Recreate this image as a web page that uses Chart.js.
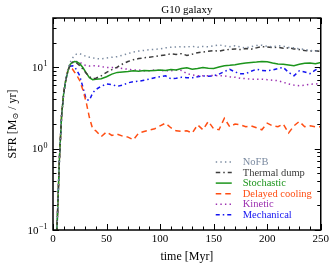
<!DOCTYPE html>
<html>
<head>
<meta charset="utf-8">
<script src="https://cdn.jsdelivr.net/npm/chart.js@4.4.0/dist/chart.umd.min.js"></script>
<style>
  html, body { margin: 0; padding: 0; background: #fff; }
  #wrap { width: 332px; height: 274px; }
</style>
</head>
<body>
<div id="wrap"><canvas id="sfrChart"></canvas></div>
<script>
// time in Myr (shared by all runs)
const times = [2, 4, 6, 8, 10, 12, 14, 16, 18, 20, 22, 25, 28, 31, 34, 37, 40,
  45, 50, 55, 60, 65, 70, 75, 80, 85, 90, 95, 100, 105, 110, 115, 120, 125, 130, 135, 140,
  145, 150, 155, 160, 165, 170, 175, 180, 185, 190, 195, 200, 205, 210, 215, 220, 225, 230,
  235, 240, 245, 250];

// SFR [Msun / yr]
const noFB = [0.03, 0.13, 0.75, 2.5, 4.8, 7.2, 9.6, 11.4, 12.8, 13.9, 14.4, 14.6, 14.0, 13.5, 13.2, 13.0, 12.7,
  12.6, 12.9, 13.2, 13.4, 14.0, 14.6, 15.3, 15.7, 16.0, 16.3, 16.5, 16.7, 17.2, 17.5, 17.6, 17.8, 17.6, 18.0, 17.5, 17.9,
  17.7, 18.2, 18.7, 18.2, 17.8, 18.3, 17.6, 17.2, 17.8, 18.4, 18.5, 18.0, 17.7, 18.3, 18.0, 17.4, 17.2, 16.7,
  16.5, 16.0, 15.7, 16.3];
const thermalDump = [0.03, 0.13, 0.75, 2.5, 4.8, 7.0, 9.0, 10.6, 11.3, 11.5, 11.2, 10.4, 9.4, 8.4, 7.6, 7.2, 7.3,
  7.8, 8.6, 9.3, 10.0, 10.9, 11.7, 12.3, 12.7, 13.0, 13.2, 13.5, 13.8, 14.1, 14.5, 14.3, 14.6, 13.9, 14.4, 15.0, 15.3,
  15.6, 15.9, 15.7, 16.2, 16.5, 16.7, 16.4, 16.9, 16.6, 17.2, 17.8, 17.6, 17.3, 17.5, 17.0, 17.2, 16.7, 16.4,
  16.0, 15.7, 15.9, 15.6];
const stochastic = [0.03, 0.13, 0.75, 2.5, 4.8, 7.0, 9.0, 10.8, 11.4, 11.7, 11.6, 11.0, 9.8, 8.5, 7.4, 7.0, 7.1,
  7.2, 7.6, 8.2, 8.6, 8.7, 8.8, 9.0, 8.9, 9.1, 9.0, 9.1, 9.2, 9.1, 9.3, 9.2, 9.6, 9.8, 9.4, 9.6, 9.9,
  9.7, 9.6, 10.0, 10.4, 10.5, 10.7, 11.0, 11.2, 11.4, 11.5, 11.7, 11.6, 11.2, 10.9, 10.8, 10.6, 10.4, 10.8,
  11.1, 11.2, 11.0, 11.4];
const delayedCooling = [0.03, 0.13, 0.75, 2.5, 4.8, 7.0, 9.3, 9.9, 9.5, 8.7, 8.0, 6.8, 5.2, 3.7, 2.4, 1.75, 1.65,
  1.4, 1.6, 1.45, 1.5, 1.42, 1.38, 1.28, 1.55, 1.62, 1.68, 1.75, 1.9, 2.05, 1.8, 1.65, 1.62, 1.65, 1.55, 1.95, 1.7,
  2.15, 1.75, 1.7, 2.35, 1.85, 2.0, 1.95, 1.85, 1.9, 1.8, 1.7, 2.05, 1.9, 1.85, 2.0, 1.55, 1.9, 2.15,
  1.85, 1.9, 1.85, 1.85];
const kinetic = [0.03, 0.13, 0.75, 2.5, 4.8, 7.0, 9.0, 10.8, 11.4, 11.8, 11.7, 11.4, 10.8, 10.4, 10.3, 10.4, 10.4,
  10.1, 9.9, 9.9, 9.8, 9.6, 9.4, 9.2, 9.2, 9.0, 9.0, 9.2, 9.1, 9.0, 9.0, 9.2, 9.1, 8.3, 8.0, 7.8, 7.8,
  7.8, 7.9, 7.8, 7.8, 7.6, 7.5, 7.3, 7.2, 7.1, 7.1, 7.1, 7.0, 6.9, 6.8, 6.5, 6.2, 6.0, 5.9,
  6.0, 6.15, 6.2, 6.3];
const mechanical = [0.03, 0.13, 0.75, 2.5, 4.8, 7.0, 9.3, 10.2, 10.4, 10.2, 9.2, 7.8, 5.6, 4.0, 3.9, 4.8, 5.3,
  5.8, 6.2, 6.1, 5.8, 6.0, 6.4, 6.6, 6.7, 6.9, 7.1, 7.4, 7.6, 7.8, 7.2, 7.3, 7.5, 7.4, 7.4, 7.6, 7.8,
  7.7, 7.8, 8.2, 8.8, 9.4, 8.7, 8.3, 8.3, 8.9, 9.4, 9.1, 9.0, 9.2, 9.6, 9.9, 8.6, 7.8, 9.0,
  8.7, 8.3, 9.2, 9.9];

const xMajorTicks = [0, 50, 100, 150, 200, 250];
const yMajorTicks = [0.1, 1, 10];
const yTickExponents = ['\u22121', '0', '1'];

const SERIF = '"Liberation Serif", "DejaVu Serif", serif';

const runs = [
  { label: 'NoFB', data: noFB, color: '#7a8aa0', dash: [1.4, 3.2] },
  { label: 'Thermal dump', data: thermalDump, color: '#3c3c3c', dash: [4.5, 3, 1.5, 3] },
  { label: 'Stochastic', data: stochastic, color: '#1c951c', dash: [] },
  { label: 'Delayed cooling', data: delayedCooling, color: '#ff4d12', dash: [5.5, 4] },
  { label: 'Kinetic', data: kinetic, color: '#9b2fb0', dash: [1.4, 3.2] },
  { label: 'Mechanical', data: mechanical, color: '#1414f0', dash: [4, 3, 1.5, 3] }
];

function strokeLine(ctx, x1, y1, x2, y2) {
  ctx.beginPath();
  ctx.moveTo(x1, y1);
  ctx.lineTo(x2, y2);
  ctx.stroke();
}

// frame, inward ticks, y tick labels, y title, legend and title
const decorations = {
  id: 'decorations',
  afterDraw(chart) {
    const { ctx, chartArea: a, scales: { x, y } } = chart;
    ctx.save();
    ctx.strokeStyle = '#000';
    ctx.lineWidth = 1;

    for (let v = 0; v <= 250; v += 10) {
      const px = Math.round(x.getPixelForValue(v)) + 0.5;
      const len = xMajorTicks.includes(v) ? 6 : 3.5;
      strokeLine(ctx, px, a.bottom, px, a.bottom - len);
      strokeLine(ctx, px, a.top, px, a.top + len);
    }
    for (let d = -1; d <= 1; d++) {
      for (let k = 1; k <= 9; k++) {
        const v = k * Math.pow(10, d);
        if (v > y.max) continue;
        const py = Math.round(y.getPixelForValue(v)) + 0.5;
        const len = k === 1 ? 6 : 3.5;
        strokeLine(ctx, a.left, py, a.left + len, py);
        strokeLine(ctx, a.right, py, a.right - len, py);
      }
    }

    ctx.lineWidth = 1.5;
    ctx.strokeRect(a.left, a.top, a.right - a.left, a.bottom - a.top);

    // y tick labels as 10^n
    ctx.fillStyle = '#000';
    ctx.textBaseline = 'middle';
    ctx.textAlign = 'left';
    yMajorTicks.forEach((v, i) => {
      const py = y.getPixelForValue(v);
      ctx.font = '11px ' + SERIF;
      const wBase = ctx.measureText('10').width;
      ctx.font = '8px ' + SERIF;
      const wExp = ctx.measureText(yTickExponents[i]).width;
      const x0 = a.left - 6 - wBase - wExp;
      ctx.font = '11px ' + SERIF;
      ctx.fillText('10', x0, py + 1);
      ctx.font = '8px ' + SERIF;
      ctx.fillText(yTickExponents[i], x0 + wBase + 0.5, py - 3);
    });

    // y title with subscript sun symbol
    const parts = [['SFR [M', 12, 0], ['\u2299', 8, 3], [' / yr]', 12, 0]];
    const widths = parts.map(p => { ctx.font = p[1] + 'px ' + SERIF; return ctx.measureText(p[0]).width; });
    const total = widths.reduce((s, w) => s + w, 0);
    ctx.save();
    ctx.translate(13, (a.top + a.bottom) / 2);
    ctx.rotate(-Math.PI / 2);
    let cx = -total / 2;
    parts.forEach((p, i) => {
      ctx.font = p[1] + 'px ' + SERIF;
      ctx.fillText(p[0], cx, p[2]);
      cx += widths[i];
    });
    ctx.restore();

    // title
    ctx.font = '11px ' + SERIF;
    ctx.textAlign = 'center';
    ctx.fillText('G10 galaxy', (a.left + a.right) / 2, 10);

    // legend
    const lx = a.right - 105;
    const ly = a.bottom - 68;
    ctx.font = '10.5px ' + SERIF;
    ctx.textAlign = 'left';
    chart.data.datasets.forEach((ds, i) => {
      const ry = ly + i * 10.55;
      ctx.strokeStyle = ds.borderColor;
      ctx.lineWidth = 1.5;
      ctx.setLineDash(ds.borderDash);
      strokeLine(ctx, lx, ry, lx + 16, ry);
      ctx.setLineDash([]);
      ctx.fillStyle = ds.borderColor;
      ctx.fillText(ds.label, lx + 27, ry + 0.5);
    });
    ctx.restore();
  }
};

new Chart(document.getElementById('sfrChart'), {
  type: 'line',
  data: {
    labels: times,
    datasets: runs.map(r => ({
      label: r.label,
      data: times.map((t, i) => ({ x: t, y: r.data[i] })),
      borderColor: r.color,
      borderDash: r.dash,
      borderWidth: 1.5,
      pointRadius: 0,
      tension: 0,
      fill: false
    }))
  },
  options: {
    responsive: true,
    maintainAspectRatio: false,
    animation: false,
    layout: { padding: { top: 18, right: 10, left: 0, bottom: 0 } },
    plugins: {
      legend: { display: false },
      title: { display: false },
      tooltip: { enabled: false }
    },
    scales: {
      x: {
        type: 'linear',
        min: 0,
        max: 250,
        grid: { display: false, drawTicks: false },
        border: { display: false },
        ticks: {
          stepSize: 50,
          padding: 3,
          color: '#000',
          maxRotation: 0,
          autoSkip: false,
          font: { family: SERIF, size: 11 }
        },
        title: {
          display: true,
          text: 'time [Myr]',
          color: '#000',
          font: { family: SERIF, size: 12 },
          padding: { top: 0, bottom: 10 }
        },
        afterFit(scale) { scale.height = 44; }
      },
      y: {
        type: 'logarithmic',
        min: 0.1,
        max: 40,
        grid: { display: false, drawTicks: false },
        border: { display: false },
        ticks: { display: false },
        title: { display: false },
        afterFit(scale) { scale.width = 53; }
      }
    }
  },
  plugins: [decorations]
});
</script>
</body>
</html>
